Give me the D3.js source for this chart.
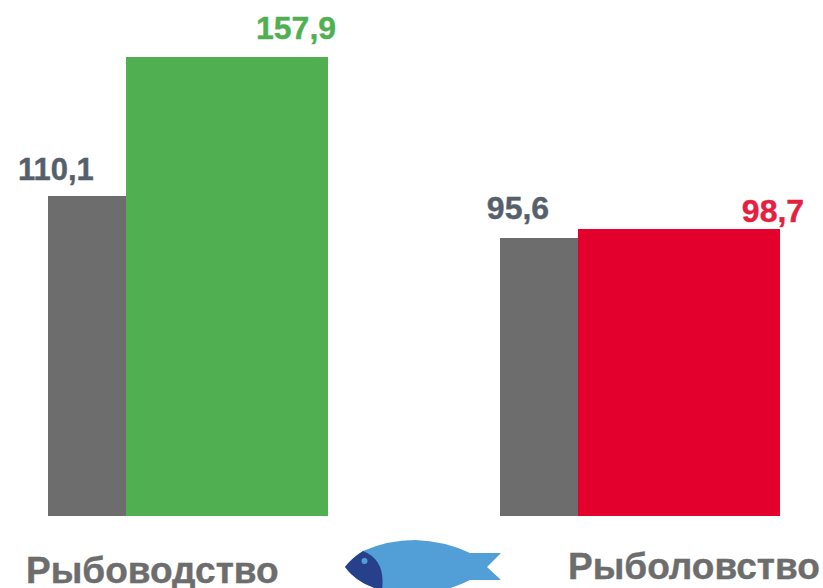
<!DOCTYPE html>
<html>
<head>
<meta charset="utf-8">
<script src="https://cdn.jsdelivr.net/npm/d3@7"></script>
<style>
html,body{margin:0;padding:0;background:#fff;overflow:hidden}
svg{display:block}
text{font-family:"Liberation Sans",Arial,sans-serif;font-weight:bold;stroke-width:.4;paint-order:stroke}
rect{shape-rendering:crispEdges}
</style>
</head>
<body>
<svg width="823" height="588"></svg>
<script>
const categories=["Рыбоводство","Рыболовство"]
const before=[110.1,95.6]
const after=[157.9,98.7]
const afterColors=["#50b051","#e3002c"]
const labelColors=["#50b051","#e5203f"]
const beforeLabels=["110,1","95,6"]
const afterLabels=["157,9","98,7"]

const svg=d3.select("svg")
const y=d3.scaleLinear().domain([0,157.9]).range([516,57])
const x=d3.scaleBand().domain(categories).range([48,780]).paddingInner(0.38)
// inside a group the grey bar is narrow, the coloured one is wide
const inner=d3.scaleLinear().domain([0,1]).range([0,x.bandwidth()])
const split=0.279

categories.forEach((c,i)=>{
  const x0=x(c)
  svg.append("rect").attr("x",x0).attr("y",y(before[i]))
    .attr("width",inner(split)).attr("height",y(0)-y(before[i])).attr("fill","#6d6d6d")
  svg.append("rect").attr("x",x0+inner(split)).attr("y",y(after[i]))
    .attr("width",inner(1-split)).attr("height",y(0)-y(after[i])).attr("fill",afterColors[i])
})

// value labels
const valueLabel=(t,px,py,col,fs=32)=>svg.append("text").attr("x",px).attr("y",py)
  .attr("font-size",fs).attr("fill",col).attr("stroke",col).text(t)
valueLabel(beforeLabels[0],x(categories[0])-30,y(before[0])-16,"#56606b",31)
valueLabel(afterLabels[0],x(categories[0])+208,y(after[0])-18.5,labelColors[0])
valueLabel(beforeLabels[1],x(categories[1])-13,y(before[1])-19,"#56606b")
valueLabel(afterLabels[1],x(categories[1])+242,y(after[1])-7,labelColors[1])

// bottom names
svg.append("text").attr("x",26).attr("y",583).attr("font-size",37).attr("fill","#6d6d6d").attr("stroke","#6d6d6d").text(categories[0])
svg.append("text").attr("x",568).attr("y",579).attr("font-size",37).attr("fill","#6d6d6d").attr("stroke","#6d6d6d").text(categories[1])

// fish
const fish=svg.append("g")
fish.append("path").attr("fill","#529fd8")
  .attr("d","M345,567 Q352,558 363,551 Q388,540 415,540 Q445,541 470,553 L501,553 L487,567 L501,580 L470,580 Q445,593 415,594 Q388,594 363,583 Q352,576 345,567 Z")
fish.append("path").attr("fill","#27408b")
  .attr("d","M345,567 Q352,558 363,551 Q386,560 382,590 L380,590 Q355,582 345,567 Z")
fish.append("circle").attr("cx",364.5).attr("cy",561).attr("r",3).attr("fill","#529fd8")
</script>
</body>
</html>
